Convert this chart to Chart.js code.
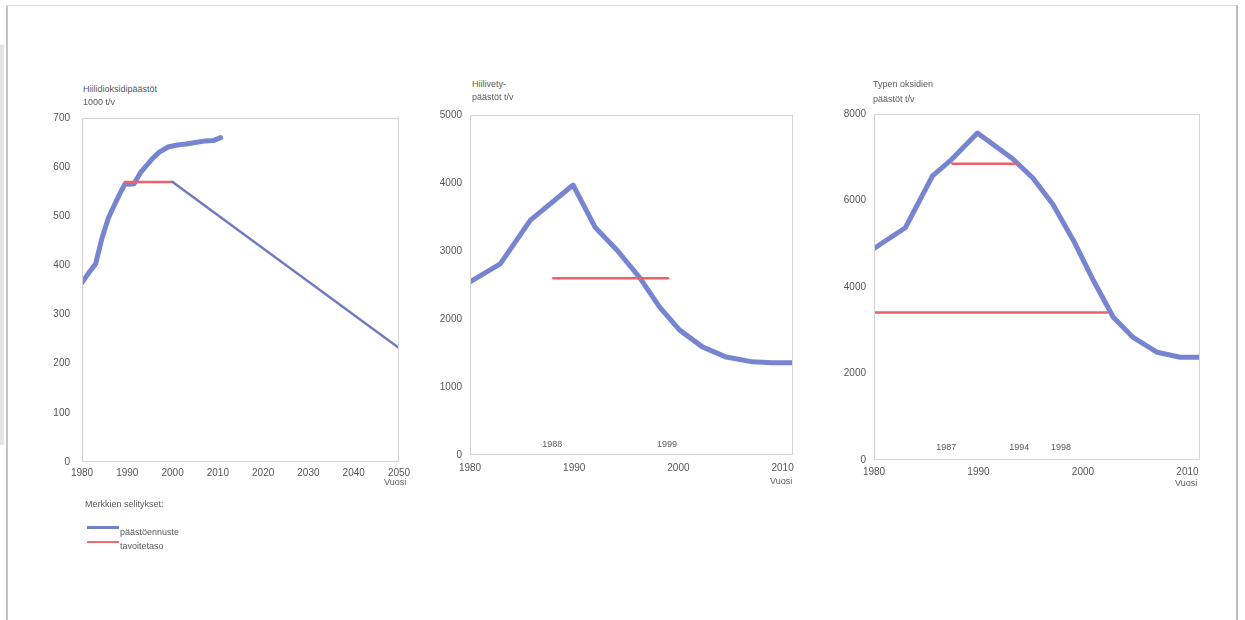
<!DOCTYPE html>
<html>
<head>
<meta charset="utf-8">
<script src="https://cdn.jsdelivr.net/npm/chart.js@4.4.1/dist/chart.umd.min.js"></script>
<style>
  html, body { margin: 0; padding: 0; background: #fff; }
  body { width: 1245px; height: 620px; position: relative; overflow: hidden;
         font-family: "Liberation Sans", Arial, sans-serif; color: #555; }
  .frameL { position: absolute; left: 6px; top: 5px; width: 2px; height: 620px; background: #c4c4c4; }
  .frameT { position: absolute; left: 6px; top: 5px; width: 1232px; height: 1px; background: #dcdcdc; }
  .frameR { position: absolute; left: 1236px; top: 5px; width: 2px; height: 620px; background: #bdbdbd; }
  .shadow { position: absolute; left: 0; top: 45px; width: 4px; height: 400px; background: #e4e4e4; }
  .cv { position: absolute; }
  .t { position: absolute; font-size: 9px; line-height: 11px; white-space: nowrap; color: #5a5a5a; }
  .lg { position: absolute; height: 3px; }
</style>
</head>
<body>
<div class="shadow"></div>
<div class="frameL"></div>
<div class="frameT"></div>
<div class="frameR"></div>

<div class="cv" style="left:30px;top:100px;width:390px;height:400px;"><canvas id="c1" width="390" height="400"></canvas></div>
<div class="cv" style="left:420px;top:100px;width:390px;height:390px;"><canvas id="c2" width="390" height="390"></canvas></div>
<div class="cv" style="left:810px;top:100px;width:410px;height:395px;"><canvas id="c3" width="410" height="395"></canvas></div>

<!-- axis titles -->
<div class="t" style="left:83px;top:84px;">Hiilidioksidipäästöt</div>
<div class="t" style="left:83px;top:97px;">1000 t/v</div>
<div class="t" style="left:472px;top:79px;">Hiilivety-</div>
<div class="t" style="left:472px;top:92px;">päästöt t/v</div>
<div class="t" style="left:873px;top:79px;">Typen oksidien</div>
<div class="t" style="left:873px;top:94px;">päästöt t/v</div>

<div class="t" style="left:384px;top:477px;">Vuosi</div>
<div class="t" style="left:770px;top:476px;">Vuosi</div>
<div class="t" style="left:1175px;top:478px;">Vuosi</div>

<!-- legend -->
<div class="t" style="left:85px;top:499px;">Merkkien selitykset:</div>
<div class="lg" style="left:87px;top:526px;width:32px;background:#7480cc;"></div>
<div class="t" style="left:120px;top:527px;">päästöennuste</div>
<div class="lg" style="left:87px;top:541px;width:32px;height:2px;background:#ef6b74;"></div>
<div class="t" style="left:120px;top:541px;">tavoitetaso</div>

<script>
// ---------- DATA ----------
// Chart 1: Hiilidioksidipäästöt 1000 t/v
const co2Years   = [1980, 1981.5, 1983, 1984.4, 1985.8, 1987, 1988.3, 1989.5, 1990.5, 1991.5, 1993, 1995.5, 1997, 1999, 2001, 2003, 2005, 2007, 2009, 2010.6];
const co2Values  = [365, 385, 403, 455, 496, 520, 545, 566, 565, 566, 590, 617, 630, 641, 645, 647, 650, 653, 654, 660];
const co2TargetYears  = [1989.5, 2000];
const co2TargetValues = [570, 570];
const co2PathYears  = [2000, 2050];
const co2PathValues = [570, 232];
const co2XTicks = [1980, 1990, 2000, 2010, 2020, 2030, 2040, 2050];
const co2YTicks = [0, 100, 200, 300, 400, 500, 600, 700];

// Chart 2: Hiilivetypäästöt t/v
const hcYears  = [1980, 1982.9, 1985.8, 1989.9, 1992, 1994.1, 1996.3, 1998.2, 2000.1, 2002.3, 2004.6, 2007.1, 2009, 2011];
const hcValues = [2545, 2810, 3455, 3970, 3350, 3015, 2605, 2175, 1840, 1590, 1440, 1370, 1355, 1355];
const hcTargetYears  = [1988, 1999];
const hcTargetValues = [2600, 2600];
const hcMarks = ["1988", "1999"];
const hcXTicks = [1980, 1990, 2000, 2010];
const hcYTicks = [0, 1000, 2000, 3000, 4000, 5000];

// Chart 3: Typen oksidien päästöt t/v
const noxYears  = [1980, 1983, 1985.6, 1987.3, 1989.9, 1993.3, 1995.2, 1997.1, 1999.1, 2001, 2002.9, 2004.8, 2007.1, 2009.3, 2011.2];
const noxValues = [4890, 5370, 6570, 6920, 7560, 6960, 6520, 5920, 5070, 4150, 3300, 2835, 2490, 2375, 2375];
const noxTarget1Years  = [1987.5, 1993.6];
const noxTarget1Values = [6850, 6850];
const noxTarget2Years  = [1980, 2002.3];
const noxTarget2Values = [3410, 3410];
const noxMarks = ["1987", "1994", "1998"];
const noxXTicks = [1980, 1990, 2000, 2010];
const noxYTicks = [0, 2000, 4000, 6000, 8000];

// ---------- STYLE ----------
const BLUE = 'rgba(112,126,206,0.95)';
const BLUE_THIN = 'rgba(104,116,190,0.95)';
const RED = 'rgba(238,96,108,1)';
const TICKCOL = '#555';
const FONT = { family: '"Liberation Sans", Arial, sans-serif', size: 10 };

function pts(xs, ys) { return xs.map((x, i) => ({ x: x, y: ys[i] })); }

const boxPlugin = {
  id: 'box',
  afterDraw(chart) {
    const a = chart.chartArea, ctx = chart.ctx;
    ctx.save();
    ctx.strokeStyle = '#d4d4d4';
    ctx.lineWidth = 1;
    ctx.strokeRect(a.left + 0.5, a.top + 0.5, a.right - a.left - 1, a.bottom - a.top - 1);
    ctx.restore();
  }
};

function makeChart(id, datasets, cfg) {
  return new Chart(document.getElementById(id), {
    type: 'line',
    data: { datasets: datasets },
    options: {
      responsive: false,
      animation: false,
      layout: { padding: cfg.padding },
      plugins: { legend: { display: false }, tooltip: { enabled: false } },
      elements: { point: { radius: 0 }, line: { tension: 0, borderCapStyle: 'round', borderJoinStyle: 'round' } },
      scales: {
        x: {
          type: 'linear', min: cfg.xmin, max: cfg.xmax,
          grid: { display: false, drawTicks: false },
          border: { display: false },
          afterBuildTicks: (s) => { s.ticks = cfg.xticks.map(v => ({ value: v })); },
          afterFit: (s) => { s.height = cfg.xh; },
          ticks: { color: TICKCOL, font: FONT, padding: cfg.xpad, maxRotation: 0, autoSkip: false,
                   callback: (v) => String(v) }
        },
        y: {
          type: 'linear', min: cfg.ymin, max: cfg.ymax,
          grid: { display: false, drawTicks: false },
          border: { display: false },
          afterBuildTicks: (s) => { s.ticks = cfg.yticks.map(v => ({ value: v })); },
          afterFit: (s) => { s.width = cfg.yw; },
          ticks: { color: TICKCOL, font: FONT, padding: cfg.ypad, callback: (v) => String(v) }
        }
      }
    },
    plugins: [boxPlugin]
  });
}

function addMarks(chart, canvasLeft, canvasTop, labels, yOffset) {
  const xs = chart.scales.x;
  const a = chart.chartArea;
  labels.forEach(lab => {
    const d = document.createElement('div');
    d.className = 't';
    d.textContent = lab;
    d.style.left = (canvasLeft + xs.getPixelForValue(Number(lab)) - 11) + 'px';
    d.style.top = (canvasTop + a.bottom - yOffset) + 'px';
    document.body.appendChild(d);
  });
}

// Chart 1
const ch1 = makeChart('c1', [
  { data: pts(co2PathYears, co2PathValues), borderColor: BLUE_THIN, borderWidth: 2.5 },
  { data: pts(co2TargetYears, co2TargetValues), borderColor: RED, borderWidth: 2.5 },
  { data: pts(co2Years, co2Values), borderColor: BLUE, borderWidth: 5 }
], { padding: { left: 0, top: 16, right: 21, bottom: 0 }, xmin: 1980, xmax: 2050, ymin: 0, ymax: 700,
     xticks: co2XTicks, yticks: co2YTicks, xh: 38, yw: 52, xpad: 5, ypad: 12 });

// Chart 2
const ch2 = makeChart('c2', [
  { data: pts(hcTargetYears, hcTargetValues), borderColor: RED, borderWidth: 2.5 },
  { data: pts(hcYears, hcValues), borderColor: BLUE, borderWidth: 5 }
], { padding: { left: 0, top: 15, right: 17, bottom: 0 }, xmin: 1980, xmax: 2011, ymin: 0, ymax: 5000,
     xticks: hcXTicks, yticks: hcYTicks, xh: 35, yw: 50, xpad: 7, ypad: 8 });
addMarks(ch2, 420, 100, hcMarks, 16);

// Chart 3
const ch3 = makeChart('c3', [
  { data: pts(noxTarget2Years, noxTarget2Values), borderColor: RED, borderWidth: 2.5 },
  { data: pts(noxTarget1Years, noxTarget1Values), borderColor: RED, borderWidth: 2.5 },
  { data: pts(noxYears, noxValues), borderColor: BLUE, borderWidth: 5 }
], { padding: { left: 0, top: 13, right: 20, bottom: 0 }, xmin: 1980, xmax: 2011.2, ymin: 0, ymax: 8000,
     xticks: noxXTicks, yticks: noxYTicks, xh: 35, yw: 64, xpad: 6, ypad: 8 });
addMarks(ch3, 810, 100, noxMarks, 18);
</script>
</body>
</html>
